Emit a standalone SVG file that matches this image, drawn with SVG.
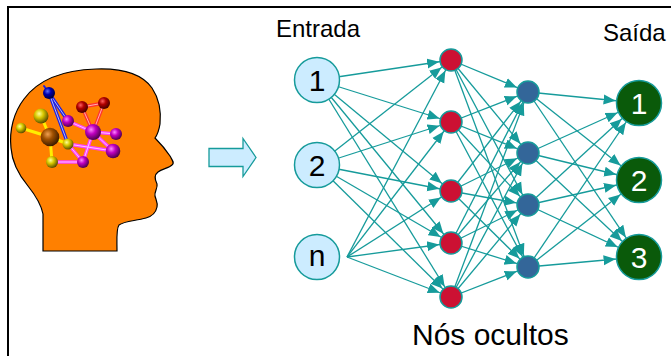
<svg xmlns="http://www.w3.org/2000/svg" width="671" height="356" viewBox="0 0 671 356">
  <style>
    .lbl { font-family: "Liberation Sans", Arial, sans-serif; fill: #000; }
    .dig { font-family: "Liberation Sans", Arial, sans-serif; font-size: 30px; text-anchor: middle; }
    .link { stroke: #169B9B; stroke-width: 1.3; fill: none; }
    .toS { marker-end: url(#headSmall); }
    .toL { marker-end: url(#headLarge); }
    .inp { fill: #CCECFF; stroke: #169B9B; stroke-width: 1.5; }
    .hid1 { fill: #CC1133; stroke: #169B9B; stroke-width: 1.5; }
    .hid2 { fill: #336699; stroke: #169B9B; stroke-width: 1.5; }
    .out { fill: #0A5A0A; stroke: #169B9B; stroke-width: 1.5; }
    .bond { stroke-linecap: round; fill: none; }
  </style>
  <defs>
    <!-- arrowheads stop short of the line end so they sit on the target circle's rim -->
    <marker id="headSmall" markerUnits="userSpaceOnUse" markerWidth="40" markerHeight="12" viewBox="0 -6 40 12" refX="24" refY="0" orient="auto">
      <path d="M0,-5 L12,0 L0,5 Z" fill="#169B9B"/>
    </marker>
    <marker id="headLarge" markerUnits="userSpaceOnUse" markerWidth="40" markerHeight="12" viewBox="0 -6 40 12" refX="35.5" refY="0" orient="auto">
      <path d="M0,-5 L12,0 L0,5 Z" fill="#169B9B"/>
    </marker>
    <radialGradient id="gYellow" cx="0.38" cy="0.35" r="0.7">
      <stop offset="0" stop-color="#FFFF99"/>
      <stop offset="0.4" stop-color="#D8C800"/>
      <stop offset="1" stop-color="#4A4000"/>
    </radialGradient>
    <radialGradient id="gBrown" cx="0.38" cy="0.35" r="0.7">
      <stop offset="0" stop-color="#F0A050"/>
      <stop offset="0.4" stop-color="#A05000"/>
      <stop offset="1" stop-color="#301500"/>
    </radialGradient>
    <radialGradient id="gMagenta" cx="0.38" cy="0.35" r="0.7">
      <stop offset="0" stop-color="#FF88FF"/>
      <stop offset="0.4" stop-color="#C000C0"/>
      <stop offset="1" stop-color="#400040"/>
    </radialGradient>
    <radialGradient id="gRed" cx="0.38" cy="0.35" r="0.7">
      <stop offset="0" stop-color="#FF6060"/>
      <stop offset="0.4" stop-color="#B00000"/>
      <stop offset="1" stop-color="#380000"/>
    </radialGradient>
    <radialGradient id="gBlue" cx="0.38" cy="0.35" r="0.7">
      <stop offset="0" stop-color="#6070FF"/>
      <stop offset="0.4" stop-color="#0000B0"/>
      <stop offset="1" stop-color="#000030"/>
    </radialGradient>
  </defs>

  <rect width="671" height="356" fill="#FFFFFF"/>
  <!-- frame (left and top edges) -->
  <path d="M8,356 V7 H671" fill="none" stroke="#000" stroke-width="2"/>

  <!-- head silhouette with molecule -->
  <g id="head">
    <path d="M43,251 L43,214 C41,204 36,196 28,186 C18,174 12,162 11,148 C9,130 14,112 24,99 C38,80 62,70 96,69 C124,68 142,74 152,88 C160,100 161,114 160,124 C159,130 158,134 155,138 C160,143 166,150 170,156 C172,160 175,163 172,165 C169,168 162,169 158,172 C154,175 155,180 157,184 C158,188 154,192 155,196 C156,200 158,203 157,207 C156,212 153,216 146,218 C135,221 124,221 119,225 C116,229 117,240 117,251 Z"
          fill="#FF8000" stroke="#000" stroke-width="1.2"/>
    <g class="bond">
      <!-- blue bonds -->
      <line x1="49" y1="93" x2="44" y2="86" stroke="#2020E0" stroke-width="2"/>
      <line x1="49" y1="93" x2="68" y2="121" stroke="#2020E0" stroke-width="3.4"/>
      <line x1="49" y1="93" x2="68" y2="121" stroke="#B0B8FF" stroke-width="1"/>
      <line x1="49" y1="93" x2="68" y2="144" stroke="#2020E0" stroke-width="3.4"/>
      <line x1="49" y1="93" x2="68" y2="144" stroke="#B0B8FF" stroke-width="1"/>
      <!-- yellow bonds -->
      <line x1="41" y1="116" x2="50" y2="137" stroke="#FFEE00" stroke-width="3"/>
      <line x1="21" y1="128" x2="50" y2="137" stroke="#FFEE00" stroke-width="3"/>
      <line x1="50" y1="137" x2="68" y2="144" stroke="#FFEE00" stroke-width="3"/>
      <line x1="50" y1="137" x2="52" y2="162" stroke="#FFEE00" stroke-width="3"/>
      <!-- pink bonds -->
      <g stroke="#FF40FF" stroke-width="3.4">
        <line x1="52" y1="162" x2="83" y2="162"/>
        <line x1="68" y1="144" x2="83" y2="162"/>
        <line x1="68" y1="144" x2="113" y2="151"/>
        <line x1="68" y1="121" x2="93" y2="132"/>
        <line x1="93" y1="132" x2="116" y2="134"/>
        <line x1="93" y1="132" x2="113" y2="151"/>
        <line x1="93" y1="132" x2="83" y2="162"/>
      </g>
      <g stroke="#FFC8FF" stroke-width="1">
        <line x1="52" y1="162" x2="83" y2="162"/>
        <line x1="68" y1="144" x2="83" y2="162"/>
        <line x1="68" y1="144" x2="113" y2="151"/>
        <line x1="68" y1="121" x2="93" y2="132"/>
        <line x1="93" y1="132" x2="116" y2="134"/>
        <line x1="93" y1="132" x2="113" y2="151"/>
        <line x1="93" y1="132" x2="83" y2="162"/>
      </g>
      <!-- red bonds -->
      <g stroke="#FF3030" stroke-width="3.4">
        <line x1="82" y1="107" x2="104" y2="103"/>
        <line x1="82" y1="107" x2="93" y2="132"/>
        <line x1="104" y1="103" x2="93" y2="132"/>
      </g>
      <g stroke="#FFB0B0" stroke-width="1">
        <line x1="82" y1="107" x2="104" y2="103"/>
        <line x1="82" y1="107" x2="93" y2="132"/>
        <line x1="104" y1="103" x2="93" y2="132"/>
      </g>
    </g>
    <!-- atoms -->
    <circle cx="49" cy="93" r="6" fill="url(#gBlue)"/>
    <circle cx="41" cy="116" r="7.5" fill="url(#gYellow)"/>
    <circle cx="21" cy="128" r="5.3" fill="url(#gYellow)"/>
    <circle cx="50" cy="137" r="9.3" fill="url(#gBrown)"/>
    <circle cx="68" cy="144" r="5.5" fill="url(#gYellow)"/>
    <circle cx="52" cy="162" r="6" fill="url(#gYellow)"/>
    <circle cx="68" cy="121" r="6" fill="url(#gMagenta)"/>
    <circle cx="82" cy="107" r="6" fill="url(#gRed)"/>
    <circle cx="104" cy="103" r="6" fill="url(#gRed)"/>
    <circle cx="93" cy="132" r="8" fill="url(#gMagenta)"/>
    <circle cx="116" cy="134" r="6" fill="url(#gMagenta)"/>
    <circle cx="113" cy="151" r="7.3" fill="url(#gMagenta)"/>
    <circle cx="83" cy="162" r="6" fill="url(#gMagenta)"/>
  </g>

  <!-- block arrow -->
  <g id="arrow">
    <polygon points="209,148.5 243,148.5 243,138.5 256,157.5 243,176.5 243,166.5 209,166.5" fill="#CCECFF" stroke="#169B9B" stroke-width="1.3"/>
  </g>

  <!-- labels -->
  <text class="lbl" x="276" y="37" font-size="24">Entrada</text>
  <text class="lbl" x="603" y="41" font-size="24">Saída</text>
  <text class="lbl" x="412" y="345" font-size="30">Nós ocultos</text>

  <!-- connectors -->
  <g id="connectors" class="link">
    <!-- inputs to first hidden layer -->
    <g class="toS">
      <line x1="317" y1="80" x2="451" y2="60"/>
      <line x1="317" y1="80" x2="451" y2="122"/>
      <line x1="317" y1="80" x2="451" y2="191"/>
      <line x1="317" y1="80" x2="451" y2="243"/>
      <line x1="317" y1="80" x2="451" y2="297"/>
      <line x1="317" y1="165" x2="451" y2="60"/>
      <line x1="317" y1="165" x2="451" y2="122"/>
      <line x1="317" y1="165" x2="451" y2="191"/>
      <line x1="317" y1="165" x2="451" y2="243"/>
      <line x1="317" y1="165" x2="451" y2="297"/>
      <line x1="347" y1="257" x2="451" y2="60"/>
      <line x1="347" y1="257" x2="451" y2="122"/>
      <line x1="347" y1="257" x2="451" y2="191"/>
      <line x1="347" y1="257" x2="451" y2="243"/>
      <line x1="347" y1="257" x2="451" y2="297"/>
    </g>
    <!-- first hidden layer to second hidden layer -->
    <g class="toS">
      <line x1="451" y1="60" x2="528" y2="92"/>
      <line x1="451" y1="60" x2="528" y2="153"/>
      <line x1="451" y1="60" x2="528" y2="205"/>
      <line x1="451" y1="60" x2="528" y2="267"/>
      <line x1="451" y1="122" x2="528" y2="92"/>
      <line x1="451" y1="122" x2="528" y2="153"/>
      <line x1="451" y1="122" x2="528" y2="205"/>
      <line x1="451" y1="122" x2="528" y2="267"/>
      <line x1="451" y1="191" x2="528" y2="92"/>
      <line x1="451" y1="191" x2="528" y2="153"/>
      <line x1="451" y1="191" x2="528" y2="205"/>
      <line x1="451" y1="191" x2="528" y2="267"/>
      <line x1="451" y1="243" x2="528" y2="92"/>
      <line x1="451" y1="243" x2="528" y2="153"/>
      <line x1="451" y1="243" x2="528" y2="205"/>
      <line x1="451" y1="243" x2="528" y2="267"/>
      <line x1="451" y1="297" x2="528" y2="92"/>
      <line x1="451" y1="297" x2="528" y2="153"/>
      <line x1="451" y1="297" x2="528" y2="205"/>
      <line x1="451" y1="297" x2="528" y2="267"/>
    </g>
    <!-- second hidden layer to outputs -->
    <g class="toL">
      <line x1="528" y1="92" x2="639" y2="103"/>
      <line x1="528" y1="92" x2="639" y2="180"/>
      <line x1="528" y1="92" x2="639" y2="257"/>
      <line x1="528" y1="153" x2="639" y2="103"/>
      <line x1="528" y1="153" x2="639" y2="180"/>
      <line x1="528" y1="153" x2="639" y2="257"/>
      <line x1="528" y1="205" x2="639" y2="103"/>
      <line x1="528" y1="205" x2="639" y2="180"/>
      <line x1="528" y1="205" x2="639" y2="257"/>
      <line x1="528" y1="267" x2="639" y2="103"/>
      <line x1="528" y1="267" x2="639" y2="180"/>
      <line x1="528" y1="267" x2="639" y2="257"/>
    </g>
  </g>

  <!-- input layer -->
  <g id="in1"><circle class="inp" cx="317" cy="80" r="22.5"/><text class="dig" x="317" y="91">1</text></g>
  <g id="in2"><circle class="inp" cx="317" cy="165" r="22.5"/><text class="dig" x="317" y="176">2</text></g>
  <g id="inN"><circle class="inp" cx="317" cy="257" r="22.5"/><text class="dig" x="317" y="266">n</text></g>

  <!-- first hidden layer -->
  <g id="h1a"><circle class="hid1" cx="451" cy="60" r="11"/></g>
  <g id="h1b"><circle class="hid1" cx="451" cy="122" r="11"/></g>
  <g id="h1c"><circle class="hid1" cx="451" cy="191" r="11"/></g>
  <g id="h1d"><circle class="hid1" cx="451" cy="243" r="11"/></g>
  <g id="h1e"><circle class="hid1" cx="451" cy="297" r="11"/></g>

  <!-- second hidden layer -->
  <g id="h2a"><circle class="hid2" cx="528" cy="92" r="11"/></g>
  <g id="h2b"><circle class="hid2" cx="528" cy="153" r="11"/></g>
  <g id="h2c"><circle class="hid2" cx="528" cy="205" r="11"/></g>
  <g id="h2d"><circle class="hid2" cx="528" cy="267" r="11"/></g>

  <!-- output layer -->
  <g id="out1"><circle class="out" cx="639" cy="103" r="22.5"/><text class="dig" x="639" y="114" fill="#FFFFFF">1</text></g>
  <g id="out2"><circle class="out" cx="639" cy="180" r="22.5"/><text class="dig" x="639" y="191" fill="#FFFFFF">2</text></g>
  <g id="out3"><circle class="out" cx="639" cy="257" r="22.5"/><text class="dig" x="639" y="268" fill="#FFFFFF">3</text></g>
</svg>
